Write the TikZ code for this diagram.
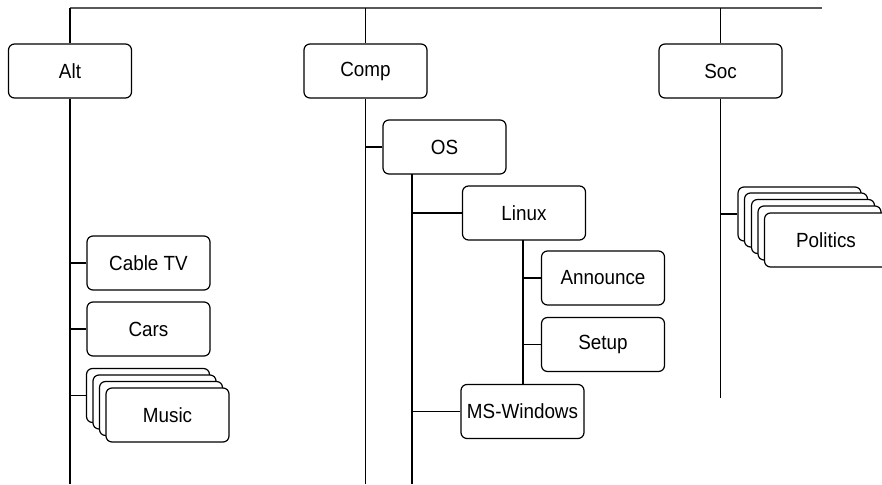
\documentclass[tikz,border=0pt]{standalone}
\usepackage{fontspec}
\setmainfont{Liberation Sans}[FakeStretch=0.92]
\begin{document}
\begin{tikzpicture}[x=1pt,y=-1pt,
  box/.style={draw=black,line width=1.2pt,rounded corners=6pt,fill=white,
    minimum width=123pt,minimum height=54pt,inner sep=0pt,
    font=\fontsize{20.5}{24}\selectfont,text=black},
  link/.style={draw=black,line width=1.2pt},
  topline/.style={draw=black!65,line width=2pt}]
\useasboundingbox (0,0) rectangle (882,484);
% top-level nodes
\node[box] (alt)  at (70,71) {Alt};
\node[box] (comp) at (365.5,71) {Comp};
\node[box] (soc)  at (720.5,71) {Soc};
% comp subtree
\node[box] (os)    at (444.5,147) {OS};
\node[box] (linux) at (524,213) {Linux};
\node[box] (announce) at (603,278) {Announce};
\node[box] (setup) at (603,344.5) {Setup};
\node[box] (mswin) at (522.5,411.5) {MS-Windows};
% alt subtree
\node[box] (cabletv) at (148.5,263) {Cable TV};
\node[box] (cars) at (148.5,329) {Cars};
\node[box] (musicA) at (148,395.5) {};
\node[box] (musicB) at (154.5,402) {};
\node[box] (musicC) at (161,408.5) {};
\node[box] (music) at (167.5,415) {Music};
% soc subtree
\node[box] (polA) at (799.5,214) {};
\node[box] (polB) at (806,220) {};
\node[box] (polC) at (813,226.5) {};
\node[box] (polD) at (819.5,233) {};
\node[box] (politics) at (826,240) {Politics};
% coordinates
\coordinate (tl) at (70,8);
\coordinate (tr) at (822,8);
\coordinate (altend) at (70,484);
\coordinate (compend) at (365.5,484);
\coordinate (socend) at (720.5,398);
\coordinate (osend) at (412,484);
\coordinate (osx) at (412,174);
\coordinate (linx) at (523,240);
% top line
\draw[topline] (tl) -- (tr);
\draw[link] (alt.north) -- (alt.north |- tl);
\draw[link] (comp.north) -- (comp.north |- tl);
\draw[link] (soc.north) -- (soc.north |- tl);
% trunks
\draw[link] (alt.south) -- (altend);
\draw[link] (comp.south) -- (compend);
\draw[link] (soc.south) -- (socend);
\draw[link] (osx) -- (osend);
\draw[link] (linx) -- (linx |- mswin.north);
% branches
\draw[link] (os.west) -- (os.west -| comp.south);
\draw[link] (linux.west) -- (linux.west -| osx);
\draw[link] (mswin.west) -- (mswin.west -| osx);
\draw[link] (announce.west) -- (announce.west -| linx);
\draw[link] (setup.west) -- (setup.west -| linx);
\draw[link] (cabletv.west) -- (cabletv.west -| alt.south);
\draw[link] (cars.west) -- (cars.west -| alt.south);
\draw[link] (musicA.west) -- (musicA.west -| alt.south);
\draw[link] (polA.west) -- (polA.west -| soc.south);
\end{tikzpicture}
\end{document}
